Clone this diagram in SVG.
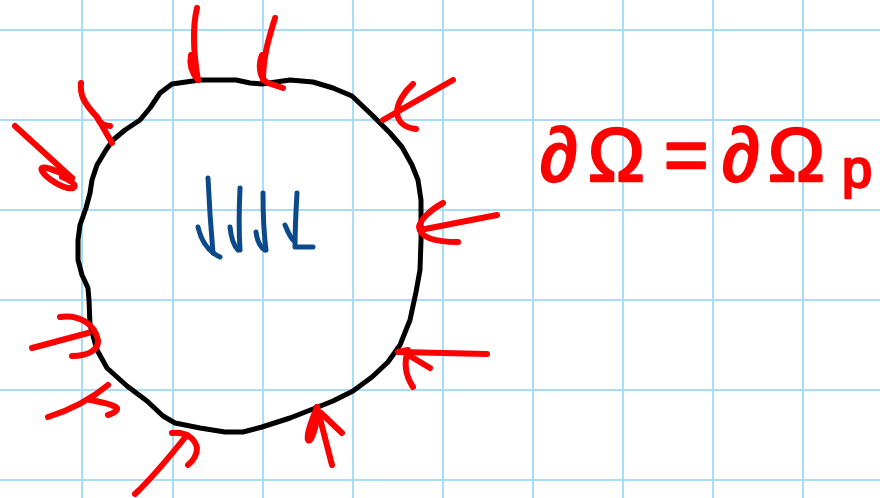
<svg xmlns="http://www.w3.org/2000/svg" width="880" height="498" viewBox="0 0 880 498">
<style>
.grid line{stroke:#a9dcf7;stroke-width:2}
.bd{fill:none;stroke:#000;stroke-width:5;stroke-linejoin:round;stroke-linecap:round}
.ar path{fill:none;stroke:#ff0000;stroke-width:6;stroke-linecap:round;stroke-linejoin:round}
.bl path{fill:none;stroke:#0b4a8a;stroke-width:5;stroke-linecap:round;stroke-linejoin:round}
.eq{font-family:"Liberation Sans","DejaVu Sans",sans-serif;fill:#ff0000;stroke:#ff0000;stroke-width:2.5;stroke-linejoin:round}
</style>
<rect width="880" height="498" fill="#fff"/>
<g id="grid" class="grid">
<line x1="82" y1="0" x2="82" y2="498"/><line x1="173" y1="0" x2="173" y2="498"/><line x1="263" y1="0" x2="263" y2="498"/><line x1="353" y1="0" x2="353" y2="498"/><line x1="443" y1="0" x2="443" y2="498"/><line x1="533" y1="0" x2="533" y2="498"/><line x1="623" y1="0" x2="623" y2="498"/><line x1="713" y1="0" x2="713" y2="498"/><line x1="803" y1="0" x2="803" y2="498"/>
<line x1="0" y1="30" x2="880" y2="30"/><line x1="0" y1="120" x2="880" y2="120"/><line x1="0" y1="210" x2="880" y2="210"/><line x1="0" y1="300" x2="880" y2="300"/><line x1="0" y1="390" x2="880" y2="390"/><line x1="0" y1="480" x2="880" y2="480"/>
</g>
<g id="boundary">
<polygon class="bd" points="172,84 200,80 236,80 250,83 262,84 290,80 313,82 333,88 352,96 372,115 390,133 402,147 412,165 418,180 421,200 421,240 420,270 416,292 410,320 400,345 388,362 372,377 353,391 333,401 313,409 290,418 262,427 243,432 225,432 200,428 175,423 163,416 147,401 127,386 107,368 97,350 90,325 89,300 88,288 82,275 78,260 78,240 80,225 86,208 90,193 92,180 97,165 106,150 113,140 125,130 140,120 150,108 160,93"/>
</g>
<g id="arrows" class="ar">
<g id="a1"><path d="M197,8 C193,25 192,45 198,80"/><path d="M191,55 C189,65 192,73 198,80"/></g>
<g id="a2"><path d="M275,18 C270,35 263,55 263,80 L268,83 L283,88"/><path d="M262,55 C258,65 260,75 264,80"/></g>
<g id="a3"><path d="M81,83 C80,95 83,102 97,117 L112,143"/><path d="M97,117 C100,124 104,126 110,126"/></g>
<g id="a4"><path d="M15,126 L72,178"/><path d="M72,178 C55,170 38,163 42,171 C46,178 64,190 73,188 C78,185 70,180 62,177"/></g>
<g id="a5"><path d="M32,348 L88,333"/><path d="M60,317 C80,314 95,325 98,340 C99,350 88,356 72,356"/></g>
<g id="a6"><path d="M48,417 C70,410 90,400 108,385"/><path d="M90,400 C100,402 113,404 117,408 C118,411 112,414 108,415"/></g>
<g id="a7"><path d="M135,494 C150,480 167,460 187,435"/><path d="M172,433 C185,431 195,438 197,448 C197,455 193,461 188,465"/></g>
<g id="a8"><path d="M332,465 L317,407"/><path d="M317,407 C312,420 306,435 308,440 C310,444 315,432 317,417"/><path d="M321,413 L342,433"/></g>
<g id="a9"><path d="M487,354 L400,352"/><path d="M398,352 L408,350 C404,362 405,375 413,387"/><path d="M410,356 L430,368"/></g>
<g id="a10"><path d="M497,215 L420,230"/><path d="M443,203 C430,210 420,220 419,227 C420,236 430,242 458,242"/></g>
<g id="a11"><path d="M453,80 L383,120"/><path d="M413,84 C404,92 397,103 397,113 C398,122 405,128 416,129"/></g>
</g>
<g id="flow" class="bl">
<path d="M208,178 C209,200 211,230 213,253"/><path d="M198,227 C200,236 205,250 220,257"/>
<path d="M240,188 C239,210 239,235 240,250"/><path d="M230,227 C231,237 234,246 238,250"/>
<path d="M263,193 C263,210 264,235 266,250"/><path d="M256,232 C257,240 260,247 265,250"/>
<path d="M297,193 C296,210 295,235 295,247 L313,247"/><path d="M285,225 C288,232 290,237 293,240"/>
</g>
<g id="equation">
<text class="eq" y="181" font-size="76"><tspan x="540">∂</tspan><tspan x="588">Ω</tspan><tspan x="664">=</tspan><tspan x="722">∂</tspan><tspan x="768">Ω</tspan><tspan x="842" y="187" font-size="54">p</tspan></text>
</g>
</svg>
